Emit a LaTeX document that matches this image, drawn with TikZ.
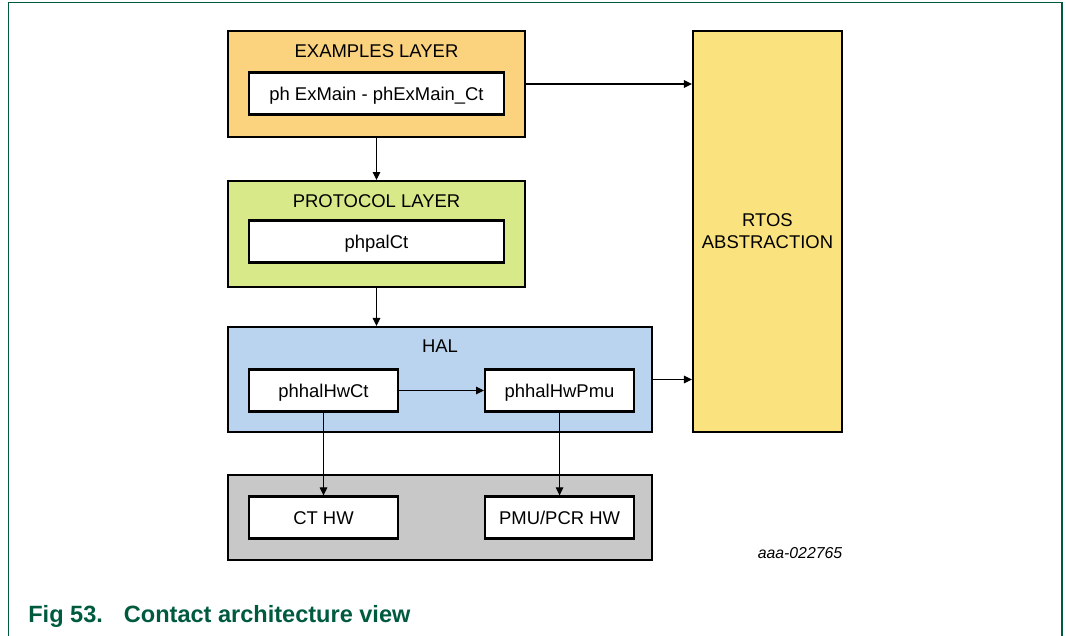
\documentclass[tikz,border=0pt]{standalone}
\usepackage{fontspec}
\setmainfont{Liberation Sans}
\usetikzlibrary{positioning,arrows.meta}

\definecolor{exorange}{RGB}{251,210,125}
\definecolor{prgreen}{RGB}{216,233,137}
\definecolor{halblue}{RGB}{186,211,238}
\definecolor{rtosyellow}{RGB}{250,226,126}
\definecolor{hwgray}{RGB}{200,200,200}
\definecolor{capgreen}{RGB}{0,90,62}

\tikzset{
  layer/.style={draw=black, line width=1.2pt, minimum width=5.94cm, minimum height=2.12cm, inner sep=0pt},
  inbox/.style={draw=black, fill=white, line width=1.2pt, minimum height=0.84cm, inner sep=0pt,
    font=\fontsize{10.5}{12.5}\selectfont, text height=7.5pt, text depth=0pt},
  smallbox/.style={inbox, minimum width=2.98cm},
  layertitle/.style={font=\fontsize{10.5}{12.5}\selectfont, inner sep=0pt},
  arr/.style={-{Triangle[length=1.6mm, width=1.5mm]}, line width=0.6pt},
}

\begin{document}
\begin{tikzpicture}[x=0.02cm, y=-0.02cm]
  \useasboundingbox (0,0) rectangle (1066,636);

  % Frame
  \draw[capgreen, line width=0.8pt] (8.3,636) -- (8.3,2.5) -- (1062,2.5) -- (1062,636);

  % Nodes
  \node[layer, fill=exorange] (exlayer) at (376.5,84) {};
  \node[layertitle] (extitle) at ([yshift=-0.42cm]exlayer.north) {EXAMPLES LAYER};
  \node[inbox, minimum width=5.1cm] (exmain) at (376.5,93.5) {ph ExMain - phExMain\_Ct};

  \node[layer, fill=prgreen, below=0.84cm of exlayer] (prlayer) {};
  \node[layertitle] (prtitle) at ([yshift=-0.42cm]prlayer.north) {PROTOCOL LAYER};
  \node[inbox, minimum width=5.1cm] (pal) at (376.5,241.5) {phpalCt};

  \node[layer, fill=halblue, minimum width=8.48cm, minimum height=2.1cm] (hal) at (440,379.5) {};
  \node[layertitle] (haltitle) at ([yshift=-0.4cm]hal.north) {HAL};
  \node[smallbox] (hwct) at (323.5,390.5) {phhalHwCt};
  \node[smallbox, right=1.7cm of hwct] (hwpmu) {phhalHwPmu};

  \node[layer, fill=hwgray, minimum width=8.48cm, minimum height=1.7cm] (hwlayer) at (440,517.5) {};
  \node[smallbox] (cthw) at (323.5,517.5) {CT HW};
  \node[smallbox, right=1.7cm of cthw] (pmuhw) {PMU/PCR HW};

  \node[layer, fill=rtosyellow, minimum width=2.98cm, minimum height=8.02cm, align=center,
    font=\fontsize{10.5}{12.5}\selectfont] (rtos) at (767.5,231.5) {RTOS\\ABSTRACTION};

  \node[font=\fontsize{9}{11}\selectfont\itshape, inner sep=0pt] (figid) at (800,553) {aaa-022765};
  \node[font=\fontsize{13.4}{16}\selectfont\bfseries, text=capgreen, anchor=base west, inner sep=0pt]
    (caption) at (28,622) {Fig 53.\hspace{0.42cm}Contact architecture view};

  % Edges
  \draw[arr] (exlayer.south) -- (prlayer.north);
  \draw[arr] (prlayer.south) -- (prlayer.south |- hal.north);
  \draw[arr] (exlayer.east) -- (exlayer.east -| rtos.west);
  \draw[arr] (hal.east) -- (hal.east -| rtos.west);
  \draw[arr] (hwct.east) -- (hwpmu.west);
  \draw[arr] (hwct.south) -- (cthw.north);
  \draw[arr] (hwpmu.south) -- (pmuhw.north);
\end{tikzpicture}
\end{document}
